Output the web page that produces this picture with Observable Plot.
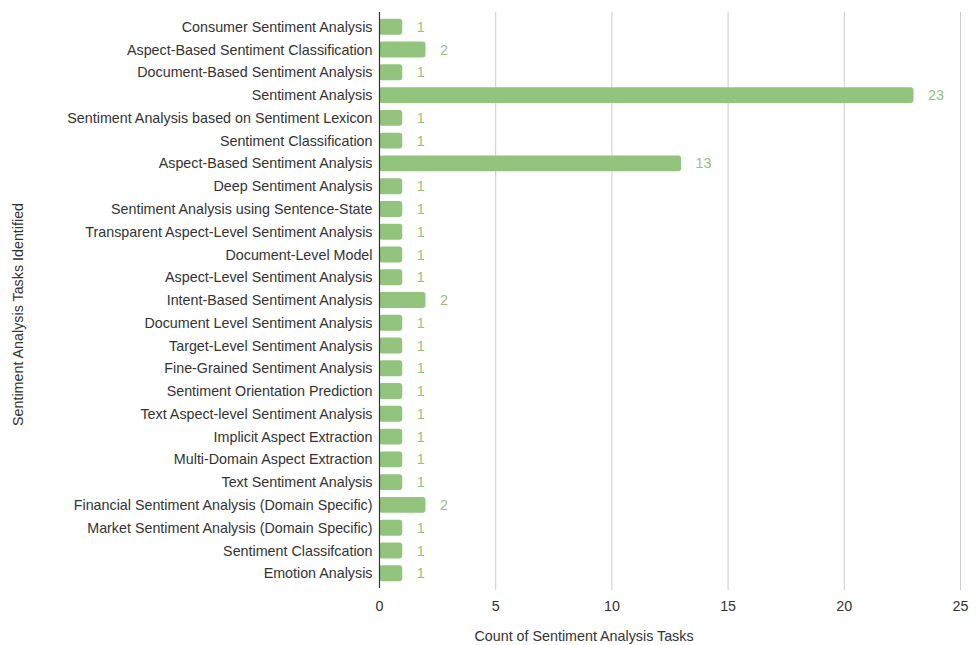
<!DOCTYPE html>
<html>
<head>
<meta charset="utf-8">
<script src="https://cdn.jsdelivr.net/npm/d3@7"></script>
<script src="https://cdn.jsdelivr.net/npm/@observablehq/plot@0.6"></script>
<style>
  html, body { margin: 0; padding: 0; background: #fff; }
  #chart { width: 979px; height: 645px; }
</style>
</head>
<body>
<div id="chart"></div>
<script>
const tasks = [
  "Consumer Sentiment Analysis",
  "Aspect-Based Sentiment Classification",
  "Document-Based Sentiment Analysis",
  "Sentiment Analysis",
  "Sentiment Analysis based on Sentiment Lexicon",
  "Sentiment Classification",
  "Aspect-Based Sentiment Analysis",
  "Deep Sentiment Analysis",
  "Sentiment Analysis using Sentence-State",
  "Transparent Aspect-Level Sentiment Analysis",
  "Document-Level Model",
  "Aspect-Level Sentiment Analysis",
  "Intent-Based Sentiment Analysis",
  "Document Level Sentiment Analysis",
  "Target-Level Sentiment Analysis",
  "Fine-Grained Sentiment Analysis",
  "Sentiment Orientation Prediction",
  "Text Aspect-level Sentiment Analysis",
  "Implicit Aspect Extraction",
  "Multi-Domain Aspect Extraction",
  "Text Sentiment Analysis",
  "Financial Sentiment Analysis (Domain Specific)",
  "Market Sentiment Analysis (Domain Specific)",
  "Sentiment Classifcation",
  "Emotion Analysis"
];
const counts = [1, 2, 1, 23, 1, 1, 13, 1, 1, 1, 1, 1, 2, 1, 1, 1, 1, 1, 1, 1, 1, 2, 1, 1, 1];
const xTicks = [0, 5, 10, 15, 20, 25];
const xTitle = "Count of Sentiment Analysis Tasks";
const yTitle = "Sentiment Analysis Tasks Identified";

const data = tasks.map((t, i) => ({task: t, count: counts[i]}));

const font = "'Liberation Sans', Arial, sans-serif";
const green = "#93c47d";
const fs = 14.3;

const chart = Plot.plot({
  width: 979,
  height: 645,
  marginLeft: 379,
  marginRight: 19,
  marginTop: 12,
  marginBottom: 57,
  style: {fontFamily: font, fontSize: fs + "px", color: "#333", background: "#fff"},
  x: {domain: [0, 25], ticks: xTicks},
  y: {domain: tasks, paddingInner: 0.3, paddingOuter: 0.3, round: false},
  marks: [
    Plot.gridX(xTicks.slice(1), {stroke: "#ccc", strokeOpacity: 1, insetBottom: -2}),
    Plot.axisX({ticks: xTicks, tickSize: 0, tickPadding: 12, label: null, fontSize: fs}),
    Plot.axisY({tickSize: 0, tickPadding: 7, label: null, fontSize: fs}),
    Plot.barX(data, {x: "count", y: "task", fill: green, rx: 3}),
    Plot.ruleX([0], {stroke: "#333", strokeWidth: 1.2}),
    Plot.text(data, {x: "count", y: "task", text: d => String(d.count), dx: 14, textAnchor: "start", fill: green, fontSize: fs}),
    Plot.text([xTitle], {frameAnchor: "bottom", dy: 52, dx: -86, fill: "#333", fontSize: fs}),
    Plot.text([yTitle], {frameAnchor: "left", rotate: -90, textAnchor: "middle", dx: -361, dy: 14, fill: "#333", fontSize: fs})
  ]
});
document.getElementById("chart").appendChild(chart);
</script>
</body>
</html>
